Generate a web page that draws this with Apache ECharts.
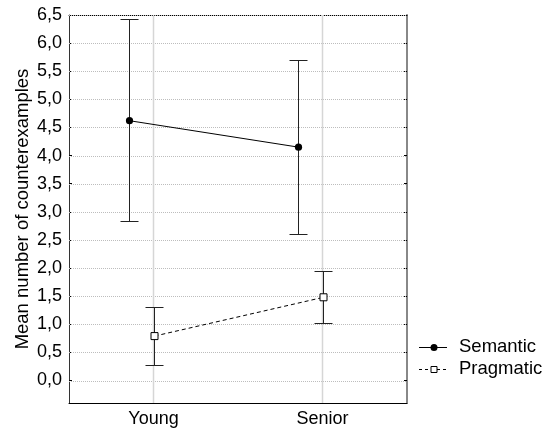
<!DOCTYPE html>
<html><head><meta charset="utf-8">
<script src="https://cdn.jsdelivr.net/npm/echarts@6/dist/echarts.min.js"></script>
<style>html,body{margin:0;padding:0;background:#fff}#c{width:546px;height:434px}</style>
</head><body><div id="c"></div>
<script>
const categories = ['Young', 'Senior'];
const semanticMean = [4.62, 4.15];
const semanticLow = [2.84, 2.61];
const semanticHigh = [6.42, 5.70];
const pragmaticMean = [0.79, 1.48];
const pragmaticLow = [0.27, 1.03];
const pragmaticHigh = [1.31, 1.94];
const yTicks = [0, 0.5, 1, 1.5, 2, 2.5, 3, 3.5, 4, 4.5, 5, 5.5, 6, 6.5];
const yMin = -0.4, yMax = 6.5;
const seriesNames = ['Semantic', 'Pragmatic'];
const yTitle = 'Mean number of counterexamples';

const FONT = '"Liberation Sans", Arial, sans-serif';
const fmt = v => v.toFixed(1).replace('.', ',');

function rows(m, lo, hi) { return m.map((v, i) => [i, v, lo[i], hi[i]]); }

function makeRender(means, dx, kind) {
  return function (params, api) {
    const i = api.value(0);
    const p = api.coord([i, api.value(1)]);
    const lo = api.coord([i, api.value(2)]);
    const hi = api.coord([i, api.value(3)]);
    const x = Math.round(p[0] + dx) + 0.5;
    const cap = 9;
    const ch = [];
    if (i < means.length - 1) {
      const q = api.coord([i + 1, means[i + 1]]);
      ch.push({ type: 'line', shape: { x1: x, y1: p[1], x2: Math.round(q[0] + dx) + 0.5, y2: q[1] },
        style: { stroke: '#000', lineWidth: 1, lineDash: kind === 'square' ? [4, 3] : null } });
    }
    const ebStyle = { stroke: '#222', lineWidth: 1 };
    const yl = Math.round(lo[1]) + 0.5, yh = Math.round(hi[1]) + 0.5;
    ch.push({ type: 'line', shape: { x1: x, y1: yl, x2: x, y2: yh }, style: ebStyle });
    ch.push({ type: 'line', shape: { x1: x - cap, y1: yl, x2: x + cap, y2: yl }, style: ebStyle });
    ch.push({ type: 'line', shape: { x1: x - cap, y1: yh, x2: x + cap, y2: yh }, style: ebStyle });
    if (kind === 'circle') {
      ch.push({ type: 'circle', shape: { cx: x, cy: p[1], r: 3.6 }, style: { fill: '#000' } });
    } else {
      ch.push({ type: 'rect', shape: { x: x - 3.5, y: p[1] - 3.5, width: 7, height: 7 }, style: { fill: '#fff', stroke: '#000', lineWidth: 1 } });
    }
    return { type: 'group', children: ch };
  };
}

const chart = echarts.init(document.getElementById('c'), null, { renderer: 'canvas' });
chart.setOption({
  animation: false,
  backgroundColor: '#fff',
  textStyle: { fontFamily: FONT },
  grid: { left: 69, right: 139, top: 15, bottom: 31, containLabel: false },
  xAxis: [{
    type: 'category', data: categories, boundaryGap: true,
    axisLine: { onZero: false, lineStyle: { color: '#000', width: 1 } },
    axisTick: { inside: true, length: 3, alignWithLabel: true, lineStyle: { color: '#000' } },
    axisLabel: { color: '#000', fontSize: 18, margin: 7, fontFamily: FONT },
    splitLine: { show: false }
  }, {
    type: 'category', data: categories, position: 'top',
    axisLine: { onZero: false, lineStyle: { color: '#000', width: 1 } },
    axisTick: { show: false }, axisLabel: { show: false }, splitLine: { show: false }
  }],
  yAxis: [{
    type: 'value', min: yMin, max: yMax,
    name: yTitle, nameLocation: 'middle', nameGap: 37, nameRotate: 90, nameMoveOverlap: false,
    nameTextStyle: { color: '#000', fontSize: 18.5, fontFamily: FONT },
    axisLine: { show: true, onZero: false, lineStyle: { color: '#333', width: 1 } },
    axisTick: { show: true, inside: true, length: 3, customValues: yTicks, lineStyle: { color: '#000' } },
    axisLabel: { color: '#000', fontSize: 18, margin: 7, customValues: yTicks, formatter: fmt, fontFamily: FONT },
    splitLine: { show: false }
  }, {
    type: 'value', min: yMin, max: yMax, position: 'right',
    axisLine: { show: true, onZero: false, lineStyle: { color: '#888', width: 2 } },
    axisTick: { show: true, inside: true, length: 3, customValues: yTicks, lineStyle: { color: '#000' } },
    axisLabel: { show: false }, splitLine: { show: false }
  }],
  series: [{
    type: 'custom', name: 'hgrid', z: 1, silent: true,
    data: yTicks.map(v => [0, v]),
    renderItem: function (params, api) {
      const y = Math.round(api.coord([0, api.value(1)])[1]) + 0.5;
      const cs = params.coordSys;
      return { type: 'line', shape: { x1: cs.x, y1: y, x2: cs.x + cs.width, y2: y },
        style: { stroke: '#bdbdbd', lineWidth: 1, lineDash: [1, 1] } };
    }
  }, {
    type: 'custom', name: 'vgrid', z: 1, silent: true,
    data: categories.map((c, i) => [i, 0]),
    renderItem: function (params, api) {
      const x = api.coord([api.value(0), 0])[0];
      const cs = params.coordSys;
      return { type: 'line', shape: { x1: x, y1: cs.y, x2: x, y2: cs.y + cs.height },
        style: { stroke: '#d6d6d6', lineWidth: 1.5 } };
    }
  }, {
    type: 'custom', name: seriesNames[0], z: 5,
    data: rows(semanticMean, semanticLow, semanticHigh),
    encode: { x: 0, y: [1, 2, 3] },
    renderItem: makeRender(semanticMean, -25, 'circle')
  }, {
    type: 'custom', name: seriesNames[1], z: 5,
    data: rows(pragmaticMean, pragmaticLow, pragmaticHigh),
    encode: { x: 0, y: [1, 2, 3] },
    renderItem: makeRender(pragmaticMean, 0, 'square')
  }],
  graphic: [
    { type: 'line', shape: { x1: 419, y1: 347.5, x2: 447, y2: 347.5 }, style: { stroke: '#000', lineWidth: 1 } },
    { type: 'circle', shape: { cx: 434, cy: 347.5, r: 3.5 }, style: { fill: '#000' } },
    { type: 'text', x: 459, y: 347, style: { text: seriesNames[0], fill: '#000', font: '18.5px ' + FONT, verticalAlign: 'middle' } },
    { type: 'line', shape: { x1: 419, y1: 369.5, x2: 447, y2: 369.5 }, style: { stroke: '#000', lineWidth: 1, lineDash: [3, 3] } },
    { type: 'rect', shape: { x: 431, y: 366.5, width: 6, height: 6 }, style: { fill: '#fff', stroke: '#000', lineWidth: 1 }, z: 10 },
    { type: 'text', x: 459, y: 369, style: { text: seriesNames[1], fill: '#000', font: '18.5px ' + FONT, verticalAlign: 'middle' } }
  ]
});
</script>
</body></html>
